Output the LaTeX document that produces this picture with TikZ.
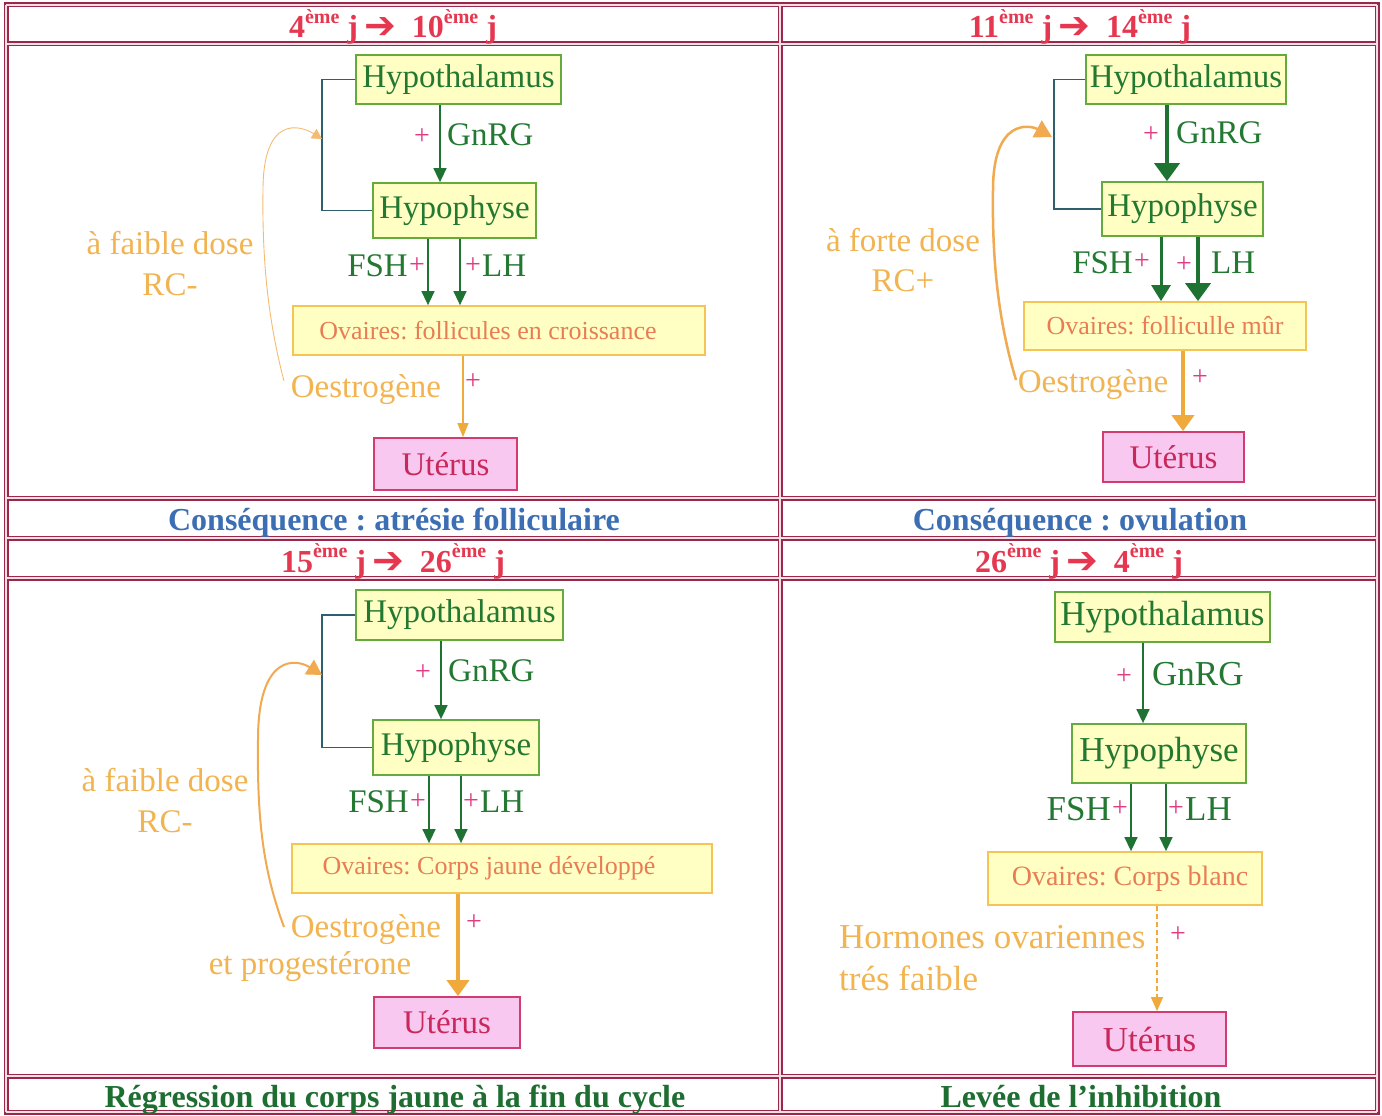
\documentclass[tikz,border=0pt]{standalone}
\usepackage{fontspec}
\setmainfont{Liberation Serif}
\newfontfamily\symfont{DejaVu Sans}
\usetikzlibrary{arrows.meta}
\frenchspacing

\definecolor{tblc}{RGB}{155,40,75}
\definecolor{gbord}{RGB}{100,170,60}
\definecolor{boxfill}{RGB}{255,255,195}
\definecolor{gtext}{RGB}{35,120,50}
\definecolor{garr}{RGB}{30,115,50}
\definecolor{mag}{RGB}{225,60,130}
\definecolor{olabc}{RGB}{242,180,80}
\definecolor{otext}{RGB}{232,125,85}
\definecolor{obord}{RGB}{246,195,85}
\definecolor{ufill}{RGB}{248,200,240}
\definecolor{ubord}{RGB}{210,60,110}
\definecolor{utext}{RGB}{200,40,90}
\definecolor{brkc}{RGB}{45,95,110}
\definecolor{fbc}{RGB}{242,170,80}
\definecolor{oarr}{RGB}{240,170,60}
\definecolor{hred}{RGB}{230,55,80}
\definecolor{cblue}{RGB}{60,110,180}
\definecolor{cgreen}{RGB}{30,110,50}

\newcommand{\expo}[1]{\raisebox{0.45em}{\fontsize{20}{20}\selectfont #1}}
\newcommand{\harrow}{\raisebox{-1pt}{\symfont\bfseries\fontsize{38}{38}\selectfont ➔}}
\newcommand{\hdrtext}[2]{#1\expo{ème} j\hspace{6pt}\harrow\hspace{16pt}#2\expo{ème} j}

\begin{document}
\begin{tikzpicture}[x=1pt,y=-1pt,
  gbox/.style={draw=gbord, line width=1.8pt, fill=boxfill, text=gtext, font=\fontsize{33}{38}\selectfont, inner sep=0pt},
  obox/.style={draw=obord, line width=1.8pt, fill=boxfill, text=otext, font=\fontsize{26}{30}\selectfont, inner sep=0pt},
  ubox/.style={draw=ubord, line width=1.8pt, fill=ufill, text=utext, font=\fontsize{33}{38}\selectfont, inner sep=0pt},
  glab/.style={text=gtext, font=\fontsize{33}{38}\selectfont, inner sep=0pt},
  plus/.style={text=mag, font=\fontsize{28}{30}\selectfont, inner sep=0pt},
  olab/.style={text=olabc, font=\fontsize{33}{38}\selectfont, inner sep=0pt},
  hdr/.style={text=hred, font=\fontsize{32}{36}\selectfont\bfseries, inner sep=0pt, anchor=base},
  capb/.style={text=cblue, font=\fontsize{32}{36}\selectfont\bfseries, inner sep=0pt, anchor=base},
  capg/.style={text=cgreen, font=\fontsize{32}{36}\selectfont\bfseries, inner sep=0pt, anchor=base},
  garrow/.style={draw=garr, line width=1.5pt, -{Triangle[width=13pt,length=14pt]}},
  gmed/.style={draw=garr, line width=3pt, -{Triangle[width=19pt,length=16pt]}},
  gthick/.style={draw=garr, line width=4pt, -{Triangle[width=25pt,length=18pt]}},
  oarrow/.style={draw=oarr, line width=1.3pt, -{Triangle[width=11pt,length=14pt]}},
  othick/.style={draw=oarr, line width=4pt, -{Triangle[width=22pt,length=16pt]}},
  odash/.style={draw=oarr, line width=1.3pt, dash pattern=on 5pt off 3pt, -{Triangle[width=12pt,length=14pt]}},
  brk/.style={draw=brkc, line width=1.2pt},
  fbthin/.style={draw=fbc!80, line width=0.9pt, -{Triangle[width=11pt,length=10pt]}},
  fbmed/.style={draw=fbc, line width=2pt, -{Triangle[width=17pt,length=15pt]}},
  fbthick/.style={draw=fbc, line width=2.5pt, -{Triangle[width=19pt,length=17pt]}},
  tblout/.style={draw=tblc, line width=5pt, line cap=rect},
  tblin/.style={draw=white!85!tblc, line width=1.6pt, line cap=butt}
]
\useasboundingbox (0,0) rectangle (1382,1116);
\fill[white] (0,0) rectangle (1382,1116);

% ---------- table grid ----------
\foreach \yy in {5,44,498,538,578,1076,1112} {\draw[tblout] (6,\yy) -- (1377,\yy);}
\foreach \xx in {6,780,1377} {\draw[tblout] (\xx,5) -- (\xx,1112);}
\foreach \yy in {5,44,498,538,578,1076,1112} {\draw[tblin] (6,\yy) -- (1377,\yy);}
\foreach \xx in {6,780,1377} {\draw[tblin] (\xx,5) -- (\xx,1112);}

% ---------- headers and captions ----------
\node[hdr] (r1) at (393,38) {\hdrtext{4}{10}};
\node[hdr] (r2) at (1080,38) {\hdrtext{11}{14}};
\node[hdr] (r3) at (393,572) {\hdrtext{15}{26}};
\node[hdr] (r4) at (1079,572) {\hdrtext{26}{4}};
\node[capb] (c1) at (394,530) {Conséquence : atrésie folliculaire};
\node[capb] (c2) at (1080,530) {Conséquence : ovulation};
\node[capg] (c3) at (395,1107) {Régression du corps jaune à la fin du cycle};
\node[capg] (c4) at (1081,1107) {Levée de l’inhibition};

% ---------- panel 1 ----------
\node[gbox, minimum width=205, minimum height=49] (h1) at (458.5,79.5) {Hypothalamus};
\node[gbox, minimum width=163, minimum height=55] (p1) at (454.5,210.5) {Hypophyse};
\node[obox, minimum width=412, minimum height=49] (o1) at (499,330.5) {\hspace*{-22pt}Ovaires: follicules en croissance};
\node[ubox, minimum width=143, minimum height=52] (u1) at (445.5,464) {Utérus};
\coordinate (g1) at (440,0); \coordinate (f1) at (428,0); \coordinate (l1) at (460,0); \coordinate (e1) at (463,0);
\draw[garrow] (g1 |- h1.south) -- (g1 |- p1.north);
\draw[garrow] (f1 |- p1.south) -- (f1 |- o1.north);
\draw[garrow] (l1 |- p1.south) -- (l1 |- o1.north);
\draw[oarrow] (e1 |- o1.south) -- (e1 |- u1.north);
\node[plus] (pg1) at (422,137) {+};
\node[glab, anchor=west] (tg1) at (447,135) {GnRG};
\node[glab, anchor=east] (tf1) at (408,266) {FSH};
\node[plus] (pf1) at (417,266) {+};
\node[plus] (pl1) at (473,266) {+};
\node[glab, anchor=west] (tl1) at (482,266) {LH};
\node[plus] (pe1) at (473,382) {+};
\node[olab] (te1) at (366,390) {Oestrogène};
\node[olab] (d1a) at (170,243) {à faible dose};
\node[olab] (d1b) at (170,285) {RC-};
\coordinate (b1) at (322,0);
\draw[brk] (h1.west) -- (h1.west -| b1) -- (p1.west -| b1) -- (p1.west);
\coordinate (s1) at (284,381); \coordinate (t1) at (322,139);
\draw[fbthin] (s1) .. controls (268,320) and (262,260) .. (263,190) .. controls (263,115) and (300,125) .. (t1);

% ---------- panel 2 ----------
\node[gbox, minimum width=200, minimum height=49] (h2) at (1186,79.5) {Hypothalamus};
\node[gbox, minimum width=161, minimum height=54] (p2) at (1182.5,209) {Hypophyse};
\node[obox, minimum width=282, minimum height=48] (o2) at (1165,326) {Ovaires: folliculle mûr};
\node[ubox, minimum width=141, minimum height=50] (u2) at (1173.5,457) {Utérus};
\coordinate (g2) at (1167,0); \coordinate (f2) at (1161,0); \coordinate (l2) at (1198,0); \coordinate (e2) at (1183,0);
\draw[gthick] (g2 |- h2.south) -- (g2 |- p2.north);
\draw[gmed] (f2 |- p2.south) -- (f2 |- o2.north);
\draw[gthick] (l2 |- p2.south) -- (l2 |- o2.north);
\draw[othick] (e2 |- o2.south) -- (e2 |- u2.north);
\node[plus] (pg2) at (1151,135) {+};
\node[glab, anchor=west] (tg2) at (1176,133) {GnRG};
\node[glab, anchor=east] (tf2) at (1133,263) {FSH};
\node[plus] (pf2) at (1142,262) {+};
\node[plus] (pl2) at (1184,265) {+};
\node[glab, anchor=west] (tl2) at (1211,263) {LH};
\node[plus] (pe2) at (1200,378) {+};
\node[olab] (te2) at (1093,385) {Oestrogène};
\node[olab] (d2a) at (903,240) {à forte dose};
\node[olab] (d2b) at (903,281) {RC+};
\coordinate (b2) at (1054,0);
\draw[brk] (h2.west) -- (h2.west -| b2) -- (p2.west -| b2) -- (p2.west);
\coordinate (s2) at (1016,380); \coordinate (t2) at (1052,137);
\draw[fbthick] (s2) .. controls (998,320) and (992,260) .. (993,190) .. controls (993,118) and (1030,125) .. (t2);

% ---------- panel 3 ----------
\node[gbox, minimum width=207, minimum height=50] (h3) at (459.5,615) {Hypothalamus};
\node[gbox, minimum width=166, minimum height=55] (p3) at (456,747.5) {Hypophyse};
\node[obox, minimum width=420, minimum height=49] (o3) at (502,868.5) {\hspace*{-26pt}Ovaires: Corps jaune développé};
\node[ubox, minimum width=146, minimum height=51] (u3) at (447,1022.5) {Utérus};
\coordinate (g3) at (441,0); \coordinate (f3) at (429,0); \coordinate (l3) at (461,0); \coordinate (e3) at (458,0);
\draw[garrow] (g3 |- h3.south) -- (g3 |- p3.north);
\draw[garrow] (f3 |- p3.south) -- (f3 |- o3.north);
\draw[garrow] (l3 |- p3.south) -- (l3 |- o3.north);
\draw[othick] (e3 |- o3.south) -- (e3 |- u3.north);
\node[plus] (pg3) at (423,673) {+};
\node[glab, anchor=west] (tg3) at (448,671) {GnRG};
\node[glab, anchor=east] (tf3) at (409,802) {FSH};
\node[plus] (pf3) at (418,802) {+};
\node[plus] (pl3) at (471,802) {+};
\node[glab, anchor=west] (tl3) at (480,802) {LH};
\node[plus] (pe3) at (474,923) {+};
\node[olab] (te3) at (366,930) {Oestrogène};
\node[olab] (te3b) at (310,967) {et progestérone};
\node[olab] (d3a) at (165,780) {à faible dose};
\node[olab] (d3b) at (165,822) {RC-};
\coordinate (b3) at (322,0);
\draw[brk] (h3.west) -- (h3.west -| b3) -- (p3.west -| b3) -- (p3.west);
\coordinate (s3) at (284,927); \coordinate (t3) at (322,675);
\draw[fbmed] (s3) .. controls (263,870) and (257,820) .. (258,740) .. controls (258,655) and (295,658) .. (t3);

% ---------- panel 4 ----------
\begin{scope}[
  gbox/.append style={font=\fontsize{35}{40}\selectfont},
  ubox/.append style={font=\fontsize{35}{40}\selectfont},
  glab/.append style={font=\fontsize{35}{40}\selectfont},
  olab/.append style={font=\fontsize{35}{40}\selectfont},
  obox/.append style={font=\fontsize{28}{32}\selectfont}]
\node[gbox, minimum width=215, minimum height=50] (h4) at (1162.5,617) {Hypothalamus};
\node[gbox, minimum width=174, minimum height=59] (p4) at (1159,753.5) {Hypophyse};
\node[obox, minimum width=274, minimum height=53] (o4) at (1125,878.5) {Ovaires: Corps blanc\hspace*{-10pt}};
\node[ubox, minimum width=153, minimum height=54] (u4) at (1149.5,1039) {Utérus};
\coordinate (g4) at (1143,0); \coordinate (f4) at (1131,0); \coordinate (l4) at (1166,0); \coordinate (e4) at (1157,0);
\draw[garrow] (g4 |- h4.south) -- (g4 |- p4.north);
\draw[garrow] (f4 |- p4.south) -- (f4 |- o4.north);
\draw[garrow] (l4 |- p4.south) -- (l4 |- o4.north);
\draw[odash] (e4 |- o4.south) -- (e4 |- u4.north);
\node[plus] (pg4) at (1124,677) {+};
\node[glab, anchor=west] (tg4) at (1152,674) {GnRG};
\node[glab, anchor=east] (tf4) at (1111,809) {FSH};
\node[plus] (pf4) at (1120,809) {+};
\node[plus] (pl4) at (1176,809) {+};
\node[glab, anchor=west] (tl4) at (1185,809) {LH};
\node[plus] (pe4) at (1178,935) {+};
\node[olab, anchor=west] (te4) at (839,937) {Hormones ovariennes};
\node[olab, anchor=west] (te4b) at (839,978) {trés faible};
\end{scope}
\end{tikzpicture}
\end{document}
